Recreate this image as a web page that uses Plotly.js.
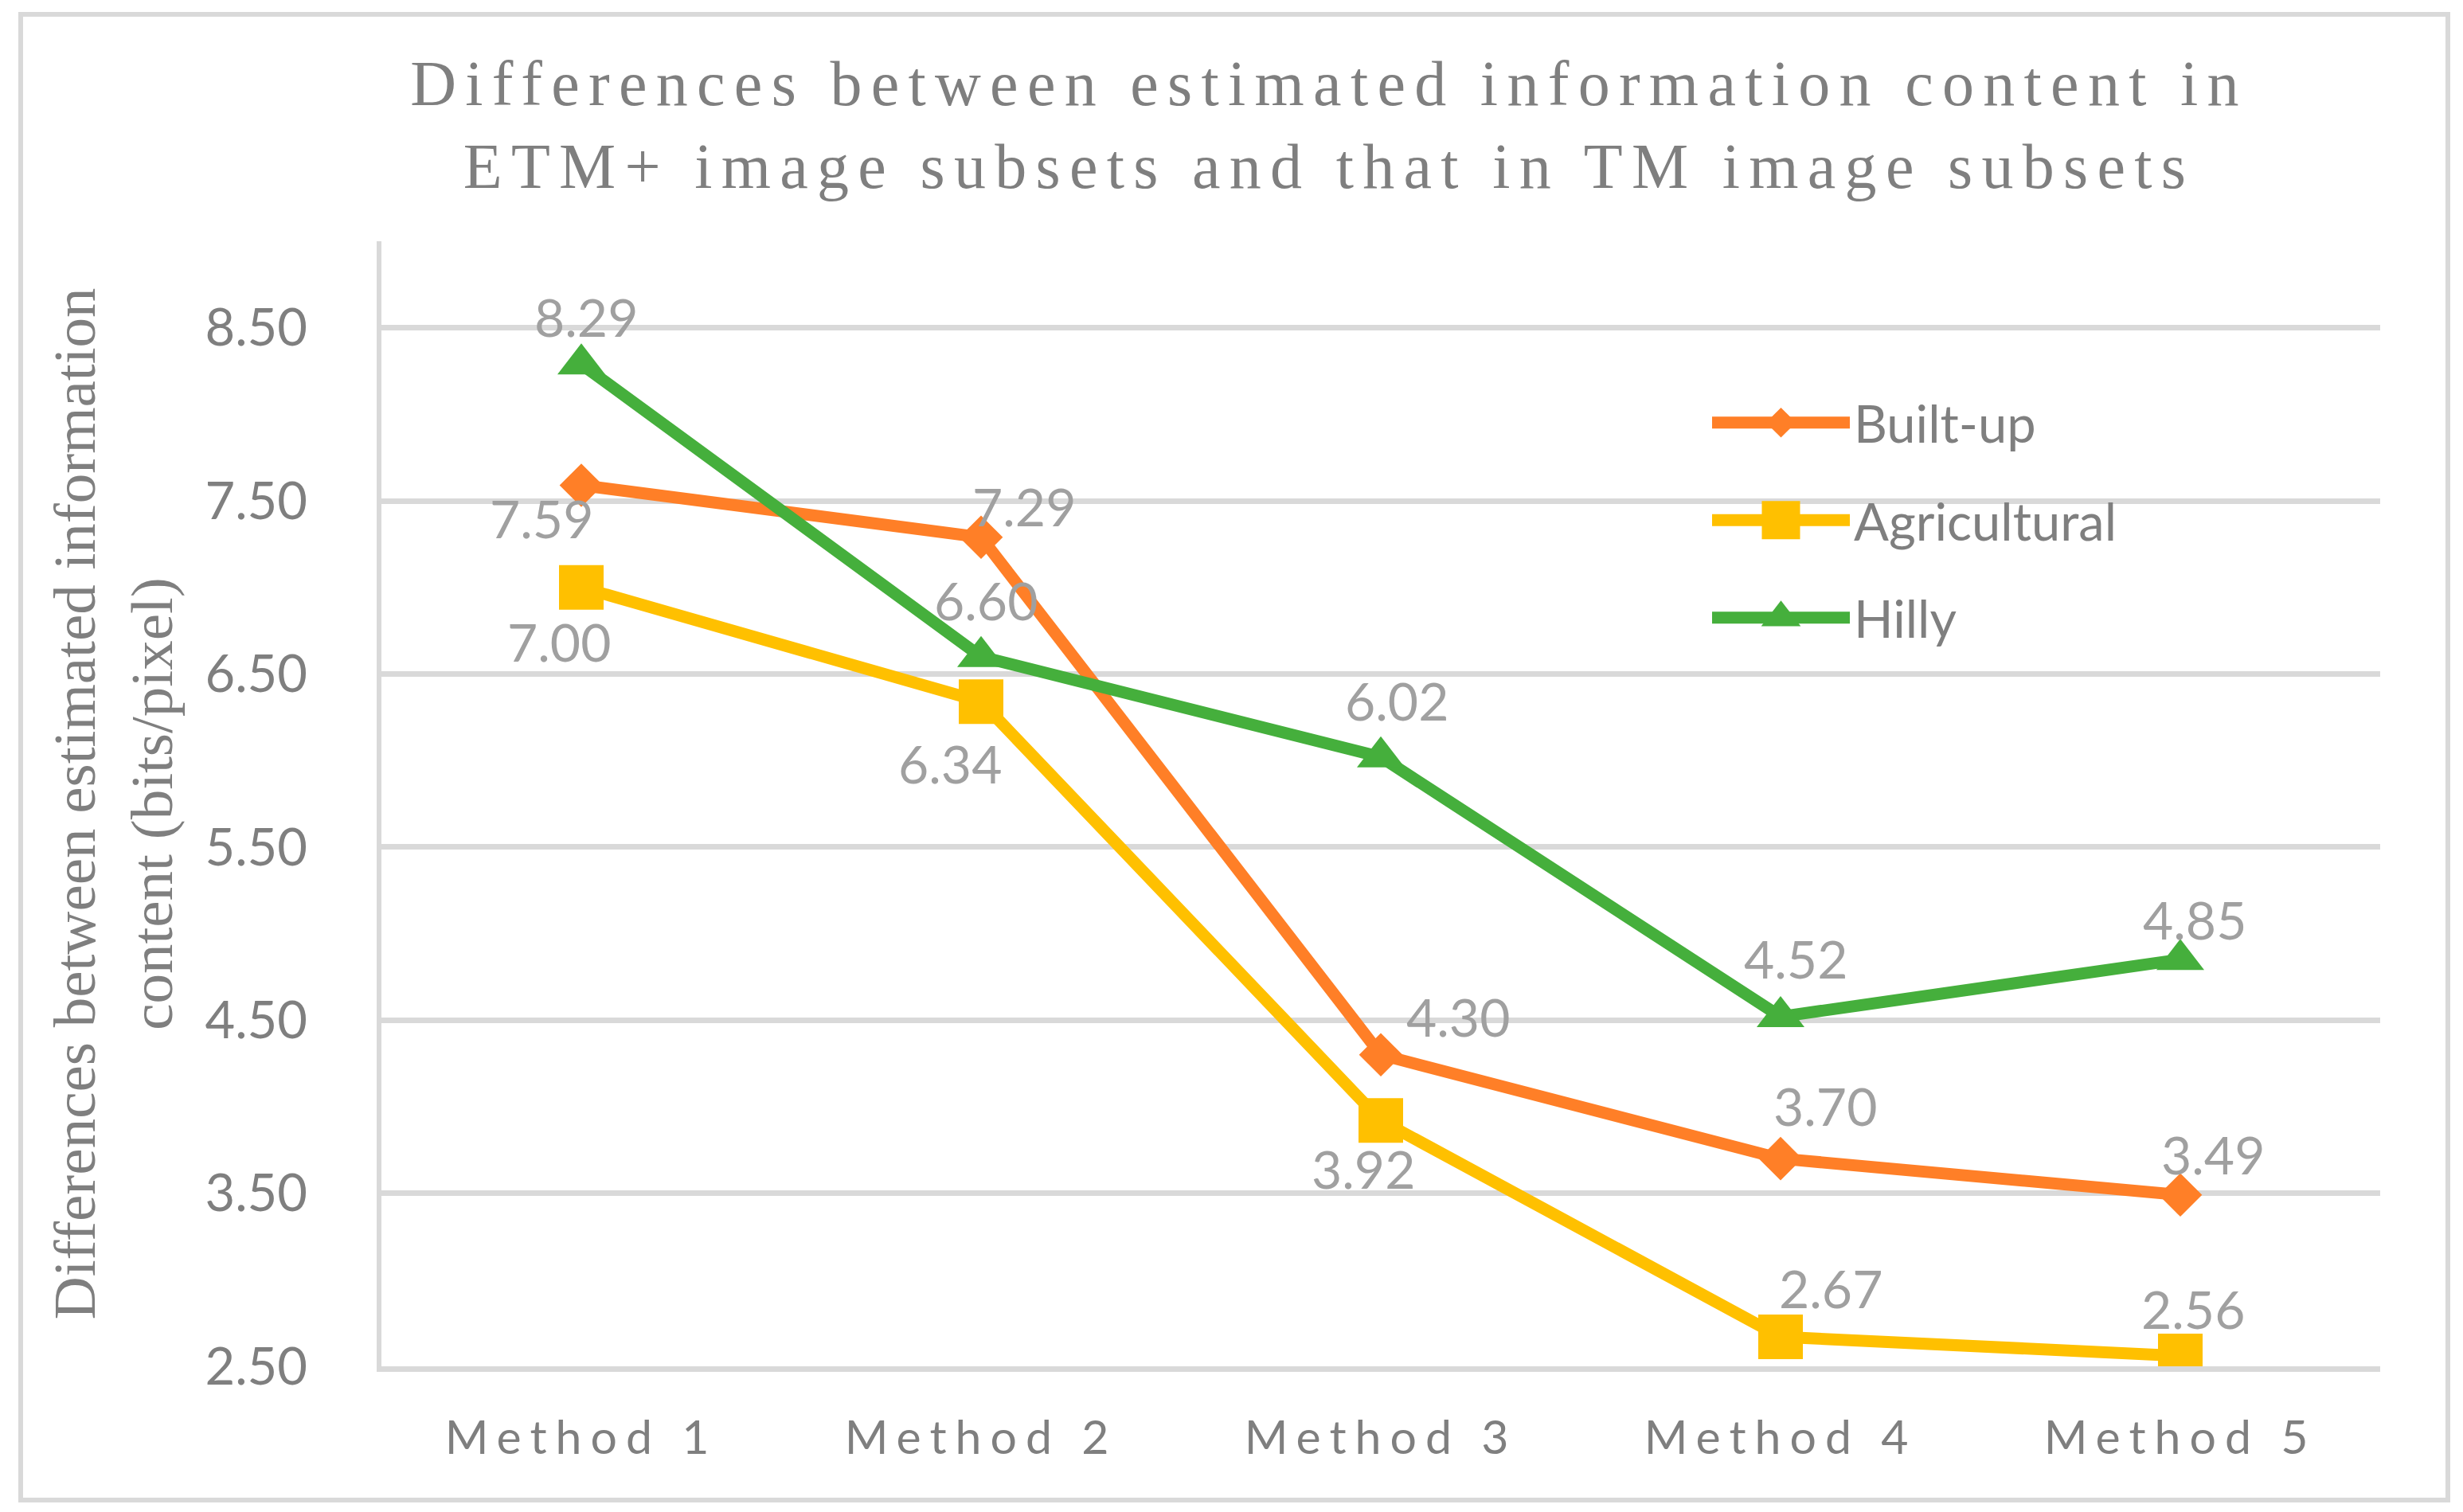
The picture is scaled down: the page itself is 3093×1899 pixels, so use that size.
<!DOCTYPE html>
<html>
<head>
<meta charset="utf-8">
<script src="https://cdn.plot.ly/plotly-3.0.1.min.js"></script>
<style>
  html, body { margin: 0; padding: 0; background: #ffffff; }
  #chart { width: 3093px; height: 1899px; }
  #chart .xtick text { letter-spacing: 11px; }
  #chart .gtitle { letter-spacing: 11.3px; }
</style>
</head>
<body>
<div id="chart"></div>
<script>
// ---- data ----
const methods = ["Method 1", "Method 2", "Method 3", "Method 4", "Method 5"];
const builtUp = [7.59, 7.29, 4.30, 3.70, 3.49];
const agricultural = [7.00, 6.34, 3.92, 2.67, 2.56];
const hilly = [8.29, 6.60, 6.02, 4.52, 4.85];
const seriesNames = ["Built-up", "Agricultural", "Hilly"];
const yTickVals = [2.5, 3.5, 4.5, 5.5, 6.5, 7.5, 8.5];
const yTickText = ["2.50", "3.50", "4.50", "5.50", "6.50", "7.50", "8.50"];

// ---- styles ----
const colors = ["#FF7F27", "#FFC000", "#45AF3C"];
const symbols = ["diamond", "square", "triangle-up"];
const markerSizes = [42, 56, 52];
const legendMarkerSizes = [29, 48, 43];
// data label pixel offsets (dx right, dy down) per series / point
const labelDx = [
  [-50, 54, 97, 56, 41],
  [-28, -39, -22, 63, 16],
  [6, 6, 20, 19, 18]
];
const labelDy = [
  [46, -34, -43, -62, -46],
  [73, 82, 65, -57, -54],
  [-55, -66, -66, -68, -46]
];

const W = 3093, H = 1899;
const M = { l: 479, r: 104, t: 303, b: 183 };
const plotW = W - M.l - M.r, plotH = H - M.t - M.b;
const pxX = px => (px - M.l) / plotW;
const pxY = py => (H - M.b - py) / plotH;

const allSeries = [builtUp, agricultural, hilly];
const traces = allSeries.map((vals, i) => ({
  type: "scatter",
  mode: "lines+markers",
  name: seriesNames[i],
  legendgroup: "g" + i,
  x: methods,
  y: vals,
  line: { color: colors[i], width: 15 },
  marker: { symbol: symbols[i], size: markerSizes[i], color: colors[i] },
  hoverinfo: "x+y+name"
}));

const annotations = [];
allSeries.forEach((vals, i) => {
  vals.forEach((v, j) => {
    annotations.push({
      x: methods[j], y: v, xref: "x", yref: "y",
      text: v.toFixed(2), showarrow: false,
      xanchor: "center", yanchor: "middle",
      xshift: labelDx[i][j], yshift: -labelDy[i][j] + 5,
      font: { family: "Lato", size: 66, color: "#A0A0A0" }
    });
  });
});

const layout = {
  width: W, height: H,
  margin: M,
  paper_bgcolor: "#ffffff",
  plot_bgcolor: "#ffffff",
  showlegend: true,
  title: {
    text: "Differences between estimated information content in<br>ETM+ image subsets and that in TM image subsets",
    font: { family: "Liberation Serif", size: 80, color: "#7F7F7F" },
    x: 1669 / W, xref: "container", xanchor: "center",
    y: 1 - 132 / H, yref: "container", yanchor: "top"
  },
  xaxis: {
    type: "category",
    range: [-0.5, 4.5],
    showgrid: false,
    zeroline: false,
    showline: true, linecolor: "#D9D9D9", linewidth: 7,
    ticks: "",
    ticklabelstandoff: 32,
    tickfont: { family: "Lato", size: 59, color: "#7F7F7F" },
    automargin: false,
    fixedrange: true
  },
  yaxis: {
    range: [2.5, 9.0],
    tickvals: yTickVals,
    ticktext: yTickText,
    showgrid: true, gridcolor: "#D9D9D9", gridwidth: 7,
    zeroline: false,
    showline: true, linecolor: "#D9D9D9", linewidth: 6,
    ticks: "",
    ticklabelstandoff: 74,
    tickfont: { family: "Lato", size: 65, color: "#7F7F7F" },
    title: {
      text: "Differences between estimated information<br>content (bits/pixel)",
      font: { family: "Liberation Serif", size: 75, color: "#7F7F7F" },
      standoff: 18
    },
    automargin: false,
    fixedrange: true
  },
  legend: {
    x: pxX(2145), xanchor: "left",
    y: pxY(482), yanchor: "top",
    bgcolor: "rgba(0,0,0,0)",
    font: { family: "Lato", size: 65, color: "#7F7F7F" },
    itemwidth: 173,
    tracegroupgap: 35,
    traceorder: "grouped"
  },
  annotations: annotations,
  shapes: [{
    type: "rect", xref: "paper", yref: "paper", layer: "below",
    x0: pxX(26), x1: pxX(3074), y0: pxY(1884), y1: pxY(18),
    line: { color: "#D9D9D9", width: 6 }, fillcolor: "rgba(0,0,0,0)"
  }]
};

Plotly.newPlot("chart", traces, layout, { displayModeBar: false, staticPlot: true }).then(gd => {
  const items = gd.querySelectorAll(".legend .traces");
  items.forEach((g, i) => {
    const p = g.querySelector(".scatterpts");
    if (p) {
      const t = p.getAttribute("transform") || "";
      p.setAttribute("transform", t + " scale(" + (legendMarkerSizes[i] / 16) + ")");
    }
    const ln = g.querySelector(".js-line");
    if (ln) ln.style.strokeWidth = "15px";
  });
});
</script>
</body>
</html>
